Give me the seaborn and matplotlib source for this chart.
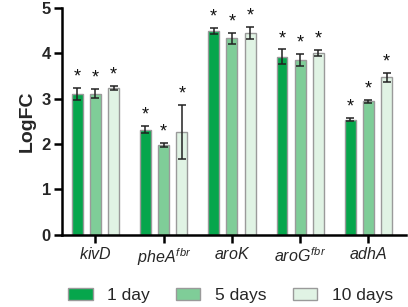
import numpy as np
import pandas as pd
import matplotlib
matplotlib.use("Agg")
import matplotlib.pyplot as plt
import seaborn as sns

genes = ["kivD", "pheA", "aroK", "aroG", "adhA"]
gene_labels = [r"$\mathit{kivD}$", r"$\mathit{pheA}^{\mathit{fbr}}$", r"$\mathit{aroK}$",
               r"$\mathit{aroG}^{\mathit{fbr}}$", r"$\mathit{adhA}$"]
times = ["1 day", "5 days", "10 days"]

# mean LogFC per gene, one list per time point
day1 = [3.11, 2.32, 4.49, 3.93, 2.54]
day5 = [3.11, 1.98, 4.33, 3.86, 2.94]
day10 = [3.24, 2.27, 4.45, 4.01, 3.47]
# error bar half-lengths
err1 = [0.13, 0.08, 0.065, 0.16, 0.04]
err5 = [0.10, 0.04, 0.12, 0.13, 0.035]
err10 = [0.05, 0.60, 0.13, 0.06, 0.10]

rows = []
for t, vals, errs in zip(times, [day1, day5, day10], [err1, err5, err10]):
    for g, v, e in zip(genes, vals, errs):
        rows.append({"gene": g, "time": t, "logfc": v, "err": e})
df = pd.DataFrame(rows)

palette = {"1 day": "#06a64c", "5 days": "#7fcd98", "10 days": "#e0f3e4"}

sns.set_style("ticks")
plt.rcParams["font.family"] = ["Liberation Sans", "DejaVu Sans"]
plt.rcParams["mathtext.fontset"] = "custom"
plt.rcParams["mathtext.it"] = "Liberation Sans:italic"
plt.rcParams["mathtext.rm"] = "Liberation Sans"

fig, ax = plt.subplots(figsize=(4.08, 3.07), dpi=100)
fig.subplots_adjust(left=0.152, right=0.995, bottom=0.235, top=0.974)

sns.barplot(data=df, x="gene", y="logfc", hue="time", order=genes, hue_order=times,
            palette=palette, saturation=1, width=0.8, gap=0.4, edgecolor="#9a9a9a",
            linewidth=1.0, errorbar=None, ax=ax, legend=True)

# error bars and asterisks from bar positions
for container, t in zip(ax.containers, times):
    sub = df[df["time"] == t].set_index("gene").loc[genes]
    for bar, (_, r) in zip(container.patches, sub.iterrows()):
        xc = bar.get_x() + bar.get_width() / 2
        ax.errorbar(xc, r["logfc"], yerr=r["err"], fmt="none", ecolor="#222222",
                    elinewidth=1.1, capsize=3, capthick=1.1)
        ax.text(xc, r["logfc"] + r["err"] + 0.05, "*", ha="center", va="bottom",
                fontsize=13, color="#111111")

ax.set_xlim(-0.49, 4.55)
ax.set_ylim(0, 5)
ax.set_yticks([0, 1, 2, 3, 4, 5])
ax.set_xticks(range(len(genes)))
ax.set_xticklabels(gene_labels, fontsize=11.5)
for lab in ax.get_yticklabels():
    lab.set_fontweight("bold")
    lab.set_fontsize(12)
ax.set_xlabel("")
ax.set_ylabel("LogFC", fontsize=14, fontweight="bold", labelpad=4)

sns.despine(ax=ax)
for side in ["left", "bottom"]:
    ax.spines[side].set_linewidth(1.8)
    ax.spines[side].set_color("black")
ax.tick_params(axis="both", width=1.8, length=6, color="black", pad=2)

handles, labels = ax.get_legend_handles_labels()
ax.legend(handles, labels, loc="upper center", bbox_to_anchor=(0.49, -0.165),
          ncol=3, frameon=False, fontsize=12.5, handlelength=1.4, handleheight=0.7,
          columnspacing=1.5, handletextpad=0.85)

fig.savefig("out.png", dpi=100)
